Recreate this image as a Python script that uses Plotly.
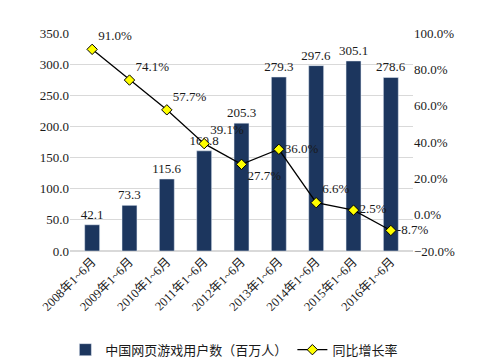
import plotly.graph_objects as go

categories = ["2008年1~6月", "2009年1~6月", "2010年1~6月", "2011年1~6月", "2012年1~6月",
              "2013年1~6月", "2014年1~6月", "2015年1~6月", "2016年1~6月"]
users = [42.1, 73.3, 115.6, 160.8, 205.3, 279.3, 297.6, 305.1, 278.6]
growth = [91.0, 74.1, 57.7, 39.1, 27.7, 36.0, 6.6, 2.5, -8.7]
growth_pos = ["top right", "top right", "top right", "top right", "bottom right",
              "middle right", "top right", "middle right", "middle right"]

FONT = "Liberation Serif, Noto Sans CJK SC, serif"

fig = go.Figure()
fig.add_trace(go.Bar(
    x=categories, y=users, name="中国网页游戏用户数（百万人）",
    marker=dict(color="#1c365e"),
    text=[f"{v:.1f}" for v in users], textposition="outside",
    constraintext="none",
    textfont=dict(size=13, color="#1a1a1a", family=FONT),
    cliponaxis=False,
))
fig.add_trace(go.Scatter(
    x=categories, y=growth, name="同比增长率", yaxis="y2",
    mode="lines+markers+text",
    line=dict(color="black", width=1.3),
    marker=dict(symbol="diamond", size=8, color="#ffff00", line=dict(color="black", width=1)),
    text=[f"{v:.1f}%" for v in growth], textposition=growth_pos,
    textfont=dict(size=13, color="#1a1a1a", family=FONT),
    cliponaxis=False,
))

fig.update_layout(
    width=478, height=364,
    margin=dict(l=62, r=73, t=25, b=121, autoexpand=False),
    plot_bgcolor="white", paper_bgcolor="white",
    font=dict(family=FONT, size=13, color="#1a1a1a"),
    bargap=0.6,
    showlegend=True,
    legend=dict(orientation="h", xref="container", x=0.12, xanchor="left",
                yref="container", y=0.02, yanchor="bottom",
                font=dict(size=13), tracegroupgap=0, itemwidth=30),
    xaxis=dict(tickangle=-45, showgrid=False, showline=False, ticks="",
               tickfont=dict(size=12.5)),
    yaxis=dict(range=[0, 350], dtick=50, tickformat=".1f", showgrid=True,
               gridcolor="#d9d9d9", gridwidth=1, zeroline=True, zerolinecolor="#d9d9d9",
               showline=False, ticks="", tickfont=dict(size=13)),
    yaxis2=dict(range=[-20, 100], dtick=20, overlaying="y", side="right",
                showgrid=False, zeroline=False, showline=False, ticks="",
                tickformat=".1f", ticksuffix="%", tickfont=dict(size=13)),
)

fig.write_html("out.html")
